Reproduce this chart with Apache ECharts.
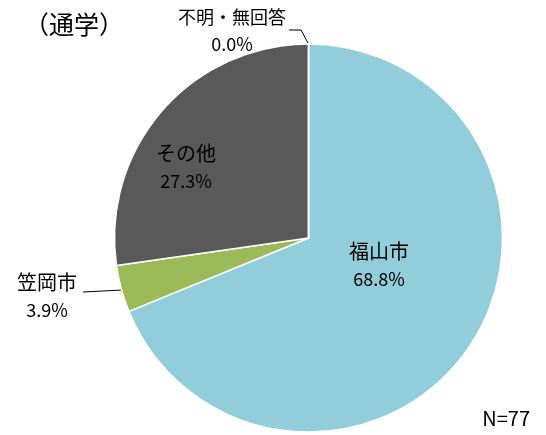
<!DOCTYPE html>
<html><head><meta charset="utf-8">
<script src="https://cdn.jsdelivr.net/npm/echarts@6/dist/echarts.min.js"></script>
<style>html,body{margin:0;padding:0;background:#fff}#c{width:546px;height:435px}</style>
</head><body><div id="c"></div>
<script>
const categories = ['福山市', '笠岡市', 'その他', '不明・無回答'];
const counts = [53, 3, 21, 0];
const colors = ['#92CDDC', '#9BBB59', '#595959', '#D9D9D9'];
const titleText = '（通学）';
const noteText = 'N=77';

const total = counts.reduce((a, b) => a + b, 0);
const FONT = '"Noto Sans CJK JP", "Noto Sans", sans-serif';
// label anchor positions (label centres) and leader lines
const labelPos = [
  {x: 379, y: 265},
  {x: 47, y: 296},
  {x: 186, y: 167},
  {x: 232, y: 31}
];
const leader = {
  1: [[122, 290], [83, 292], [83, 292]],
  3: [[308, 43], [301, 30], [289, 30]]
};

const chart = echarts.init(document.getElementById('c'), null, {renderer: 'canvas'});
chart.setOption({
  animation: false,
  title: [
    {text: titleText, left: 19, top: 7, textStyle: {fontFamily: FONT, fontSize: 25, fontWeight: 'normal', color: '#000'}},
    {text: noteText, right: 11, top: 403, textStyle: {fontFamily: FONT, fontSize: 20, fontWeight: 'normal', color: '#000'}}
  ],
  series: [{
    type: 'pie',
    center: [308.5, 238],
    radius: 194,
    startAngle: 90,
    clockwise: true,
    minAngle: 0,
    avoidLabelOverlap: false,
    stillShowZeroSum: true,
    itemStyle: {borderColor: '#fff', borderWidth: 1.5},
    label: {
      show: true,
      position: 'outside',
      fontFamily: FONT,
      color: '#000',
      formatter: p => '{' + (p.dataIndex === 3 ? 's' : 'n') + '|' + p.name + '}\n{v|' + (p.value / total * 100).toFixed(1) + '%}',
      rich: {
        n: {fontFamily: FONT, fontSize: 20, lineHeight: 28, color: '#000'},
        s: {fontFamily: FONT, fontSize: 18, lineHeight: 27, color: '#000'},
        v: {fontFamily: FONT, fontSize: 18, lineHeight: 28, color: '#000'}
      }
    },
    labelLine: {show: true, lineStyle: {color: '#000', width: 1}},
    labelLayout: function (params) {
      const i = params.dataIndex;
      const out = {x: labelPos[i].x, y: labelPos[i].y, align: 'center', verticalAlign: 'middle'};
      if (leader[i]) out.labelLinePoints = leader[i];
      return out;
    },
    data: categories.map((c, i) => ({
      name: c,
      value: counts[i],
      itemStyle: {color: colors[i]},
      labelLine: {show: !!leader[i]}
    }))
  }]
});
</script></body></html>
